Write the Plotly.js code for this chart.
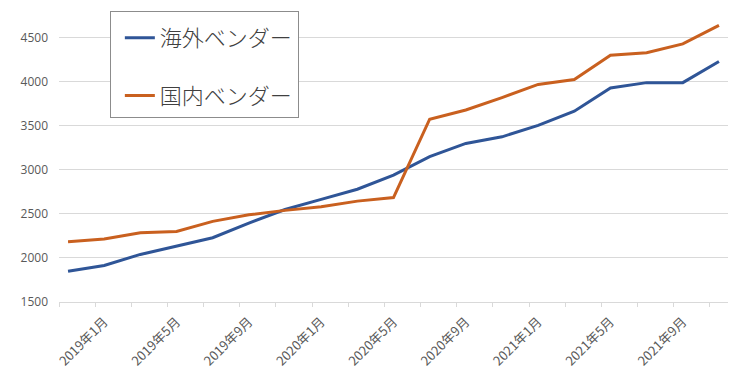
<!DOCTYPE html>
<html>
<head>
<meta charset="utf-8">
<script src="https://cdn.plot.ly/plotly-3.0.1.min.js"></script>
<style>html,body{margin:0;padding:0;background:#fff;}#chart{width:750px;height:385px;}</style>
</head>
<body>
<div id="chart"></div>
<script>
// Bimonthly periods (first point unlabeled in the reference)
const periods = ['2018年11月','2019年1月','2019年3月','2019年5月','2019年7月','2019年9月','2019年11月',
  '2020年1月','2020年3月','2020年5月','2020年7月','2020年9月','2020年11月',
  '2021年1月','2021年3月','2021年5月','2021年7月','2021年9月','2021年11月'];
const labeledPeriods = ['2019年1月','2019年5月','2019年9月','2020年1月','2020年5月','2020年9月','2021年1月','2021年5月','2021年9月'];
const overseasName = '海外ベンダー';
const domesticName = '国内ベンダー';
const overseas = [1850,1915,2040,2135,2230,2395,2550,2665,2780,2940,3150,3300,3375,3505,3665,3930,3990,3990,4230];
const domestic = [2185,2215,2285,2300,2415,2490,2540,2580,2645,2685,3575,3680,3820,3970,4025,4300,4330,4430,4640];
const yTicks = [1500,2000,2500,3000,3500,4000,4500];

const xIdx = periods.map((p, i) => i);
const labelPos = labeledPeriods.map(l => periods.indexOf(l));
const boundaryPos = periods.map((p, i) => i - 0.25);

const traces = [
  {x: xIdx, y: overseas, name: overseasName, type: 'scatter', mode: 'lines', legendgroup: 'a',
   line: {color: '#2F5597', width: 3}, hoverinfo: 'skip'},
  {x: xIdx, y: domestic, name: domesticName, type: 'scatter', mode: 'lines', legendgroup: 'b',
   line: {color: '#C9601F', width: 3}, hoverinfo: 'skip'}
];

const layout = {
  width: 750, height: 385,
  margin: {l: 59, r: 22, t: 0, b: 83},
  paper_bgcolor: '#ffffff', plot_bgcolor: '#ffffff',
  showlegend: true,
  legend: {
    x: 0.076, y: 0.964, xanchor: 'left', yanchor: 'top',
    bgcolor: '#ffffff', bordercolor: '#8c8c8c', borderwidth: 1,
    indentation: 9,
    title: {text: ' ', font: {size: 4}},
    font: {family: '"Noto Sans CJK JP", sans-serif', size: 22, color: '#404040', weight: 300},
    tracegroupgap: 26
  },
  xaxis: {
    type: 'linear', range: [-0.25, 18.25], fixedrange: true,
    tickmode: 'array', tickvals: labelPos, ticktext: labeledPeriods,
    tickangle: -45, ticks: '', showgrid: false, zeroline: false,
    showline: true, linecolor: '#d9d9d9', linewidth: 1,
    ticklabelstandoff: 6,
    tickfont: {family: '"Noto Sans CJK JP", sans-serif', size: 13, color: '#595959'},
    minor: {tickmode: 'array', tickvals: boundaryPos, ticks: 'outside', ticklen: 4, tickcolor: '#d9d9d9', tickwidth: 1, showgrid: false}
  },
  yaxis: {
    range: [1500, 4928], fixedrange: true,
    tickmode: 'array', tickvals: yTicks, ticktext: yTicks.map(String),
    showgrid: true, gridcolor: '#d9d9d9', gridwidth: 1, zeroline: false, showline: false,
    ticks: '', ticklabelstandoff: 10,
    tickfont: {family: '"Open Sans", sans-serif', size: 12, color: '#595959'}
  }
};

Plotly.newPlot('chart', traces, layout, {staticPlot: true, displayModeBar: false});
</script>
</body>
</html>
